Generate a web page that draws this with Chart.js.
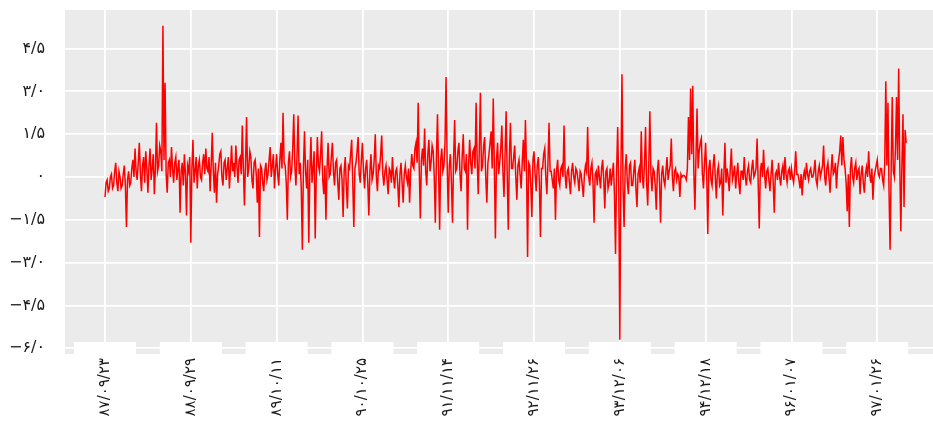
<!DOCTYPE html>
<html>
<head>
<meta charset="utf-8">
<script src="https://cdn.jsdelivr.net/npm/chart.js@4"></script>
<style>
  html, body { margin: 0; padding: 0; background: #fff; overflow: hidden; }
</style>
</head>
<body>
<canvas id="returns-chart" width="933" height="426"></canvas>
<script>
// tick labels (Persian dates, one every 80 observations)
const dateLabels = ['۸۷/۰۹/۲۳', '۸۸/۰۹/۲۹', '۸۹/۱۰/۱۱', '۹۰/۱۰/۲۵', '۹۱/۱۱/۱۴',
                    '۹۲/۱۱/۲۶', '۹۳/۱۲/۰۶', '۹۴/۱۲/۱۸', '۹۶/۰۱/۰۷', '۹۷/۰۱/۲۶'];
const dateTickIndex = [0, 80, 160, 240, 320, 400, 480, 560, 640, 720];

const yTickValues = [-6, -4.5, -3, -1.5, 0, 1.5, 3, 4.5];
const yTickLabels = ['−۶/۰', '−۴/۵', '−۳/۰', '−۱/۵', '۰', '۱/۵', '۳/۰', '۴/۵'];

const returns = [
  -0.7, -0.2, -0.1, -0.5, -0.4, 0.0, 0.1, -0.4, -0.3, 0.2, 0.5, -0.2, -0.5, 0.2, 0.0, -0.4, -0.3, 0.1, 0.4, -0.3,
  -1.75, -0.1, 0.2, -0.3, -0.2, 0.3, 0.6, 0.0, 1.0, 0.2, -0.1, 0.5, 1.2, 0.1, -0.5, 0.4, 0.7, -0.2, 0.9, 0.3,
  -0.55, 0.4, 1.0, -0.1, 0.3, 0.8, -0.6, 0.3, 1.9, 0.2, 0.4, 1.1, 0.9, 0.2, 5.3, 0.6, 3.3, 0.1, -0.55, 0.5,
  0.6, 0.0, 1.05, 0.3, -0.2, 0.5, 0.7, -0.1, 0.3, 0.6, -1.25, 0.2, 0.5, -0.3, 0.8, 0.1, -1.35, 0.4, 0.2, 0.7,

  -2.3, 0.3, 1.3, -0.2, 0.2, 0.7, -0.4, 0.4, 0.6, 0.0, -0.1, 0.5, 0.8, 0.1, 1.0, 0.3, 0.2, 0.7, -0.5, 0.4,
  1.55, 0.2, -0.55, 0.5, -0.9, 0.1, 0.4, 0.8, 0.9, 0.0, -0.3, 0.5, 0.6, -0.1, 0.3, 0.7, -0.4, 0.3, 1.1, 0.2,
  0.5, 0.0, 1.1, 0.4, -0.2, 0.6, 0.7, 0.1, 1.8, 0.3, -1.0, 0.5, 2.1, 0.0, 0.3, 0.9, 0.7, -0.1, -0.4, 0.5,
  0.6, 0.1, -0.9, 0.3, -2.1, 0.4, 0.3, -0.2, -0.5, 0.2, 0.5, -0.1, 0.1, 0.6, 1.05, 0.0, 0.4, 0.8, -0.4, 0.3,

  0.8, 0.1, -0.3, 0.6, 1.2, 0.3, 2.25, 0.5, 0.4, -0.2, -1.5, 0.5, 0.9, 0.0, 0.2, 1.0, 2.2, 0.4, -0.3, 0.7,
  2.15, 0.1, 0.5, -0.4, -2.55, 0.3, 1.6, 0.2, -0.4, 0.6, -2.3, 0.2, 1.4, -0.2, 0.3, 0.9, -2.15, 0.1, 1.4, 0.4,
  0.2, 0.8, 1.6, -0.1, -0.6, 0.4, -1.5, 0.3, 1.2, 0.0, 0.1, 0.7, 1.2, 0.2, -0.3, 0.5, 0.6, -0.2, -0.8, 0.3,
  0.4, -0.1, -1.4, 0.2, 0.7, -0.3, -1.1, 0.4, 0.3, 0.8, 1.3, -0.2, -1.75, 0.3, 0.5, 0.9, 1.4, 0.1, -0.2, 0.6,

  1.2, 0.2, -0.4, 0.3, 0.6, -0.2, -1.35, 0.2, 0.8, -0.1, 0.1, 0.6, 1.5, 0.0, -0.5, 0.4, 0.3, 0.8, 1.45, 0.1,
  -0.3, 0.2, 0.4, -0.1, -0.6, 0.3, 0.2, -0.2, 0.7, 0.0, -0.4, 0.2, 0.3, -0.3, -1.05, 0.1, 0.5, -0.2, -0.9, 0.1,
  0.4, 0.0, -0.2, 0.3, -0.9, 0.2, 0.8, 0.4, 0.3, 1.0, 1.2, 0.5, 2.6, 0.3, -1.45, 0.6, 1.0, 0.4, 1.7, 0.2,
  -0.3, 0.8, 1.3, 0.2, 0.5, 1.1, 0.9, 0.0, -1.6, 0.7, 2.2, 0.3, -1.85, 0.6, 1.0, 0.2, 0.4, 1.2, 3.5, 0.5,

  -1.25, 0.4, 0.8, -0.2, -1.6, 0.6, 2.0, 0.2, 0.3, 0.9, 1.2, 0.1, -0.5, 0.7, 1.5, 0.3, 0.2, 0.8, -1.85, 0.4,
  1.3, 0.5, 0.1, 0.9, 1.0, 0.3, 2.6, 0.6, -0.6, 1.0, 2.95, 0.2, 0.4, 1.1, 1.4, 0.0, -0.9, 0.5, 0.8, 1.2,
  1.6, 0.3, 2.75, 0.4, -2.15, 0.6, 1.2, 0.1, 0.5, 1.0, 1.8, 0.2, -0.7, 0.8, 2.3, 0.1, -1.85, 0.7, 1.9, 0.3,
  0.3, 0.7, 1.1, 0.0, -0.8, 0.4, 0.6, 0.1, -0.4, 0.5, 1.3, 0.2, 2.0, 0.3, -2.8, 0.5, 0.4, -0.3, -1.4, 0.6,

  0.9, 0.1, -0.5, 0.4, 0.7, -0.2, -2.1, 0.3, 0.3, 0.8, 1.0, 0.0, -0.6, 0.5, 1.9, 0.2, 0.2, -0.1, -0.4, 0.3,
  -1.5, 0.2, 0.6, -0.1, -0.3, 0.3, 0.4, 0.0, 1.8, 0.1, -0.4, 0.2, 0.3, -0.2, -0.6, 0.2, 0.5, 0.0, -0.2, 0.3,
  0.2, -0.1, -0.5, 0.2, 0.1, -0.3, -0.7, 0.1, 0.4, 0.2, 1.75, 0.0, -0.3, 0.3, 0.5, -0.2, -1.6, 0.1, 0.2, -0.3,
  0.4, 0.0, -0.4, 0.3, 0.6, -0.1, -1.1, 0.2, 0.3, -0.4, -0.2, 0.3, -0.3, 0.1, 0.5, -0.6, -2.7, 0.2, 1.75, -0.3,

  -5.7, 0.2, 3.6, -0.4, -1.75, 0.3, 0.8, -0.2, -0.6, 0.4, 0.5, -0.3, -0.3, 0.2, 0.6, -0.4, -1.05, 0.1, 0.3, -0.2,
  1.6, 0.0, -0.4, 0.5, 1.75, -0.2, -1.0, 0.4, 2.3, 0.1, -0.5, 0.3, 0.2, -0.3, -1.15, 0.2, 0.6, -0.2, -1.6, 0.1,
  0.4, -0.1, -0.3, 0.2, 0.7, -0.1, 0.2, 0.4, 1.35, 0.0, -0.5, 0.2, 0.3, -0.1, 0.1, 0.0, -0.7, 0.1, 0.0, 0.05,
  0.05, 0.0, -0.1, 0.3, 2.1, 0.6, 3.1, 0.8, 3.2, 0.2, -1.15, 0.7, 2.4, 0.3, 0.9, 1.2, 1.35, 0.1, -0.4, 0.5,

  1.2, 0.1, -2.0, 0.3, 0.6, -0.1, -0.3, 0.4, 0.8, 0.0, -0.75, 0.2, 0.4, -0.3, -0.2, 0.3, -1.35, 0.1, 1.2, -0.2,
  0.3, 0.0, -0.5, 0.3, 1.0, -0.1, 0.1, 0.4, -0.4, 0.1, 0.5, -0.2, -0.6, 0.2, 0.2, -0.1, 0.7, 0.0, -0.3, 0.2,
  0.4, -0.1, -0.2, 0.3, 0.6, 0.0, 0.1, 0.3, 1.35, -0.2, -1.8, 0.2, 0.5, 0.0, 0.95, 0.1, -0.4, 0.2, 0.3, -0.1,
  -0.5, 0.1, 0.6, -0.2, -1.25, 0.1, 0.2, -0.1, 0.5, 0.0, -0.3, 0.2, 0.4, -0.1, 0.7, 0.1, -0.2, 0.2, 0.3, -0.1,

  0.3, 0.0, -0.2, 0.2, 0.9, 0.1, 0.1, -0.1, -0.4, 0.1, -0.65, 0.0, 0.2, -0.1, 0.5, 0.1, -0.1, 0.2, 0.3, 0.0,
  0.0, 0.2, 0.6, -0.1, -0.3, 0.2, 0.4, 0.0, 0.2, 0.4, 1.1, 0.0, -0.3, 0.3, 0.5, 0.0, -0.55, 0.2, 0.8, 0.1,
  0.2, 0.5, -0.4, 0.3, 0.6, 0.9, 1.45, 0.4, 1.4, 0.6, 0.3, -0.2, -1.2, 0.1, -1.75, 0.3, 0.7, 0.0, -0.2, 0.3,
  0.5, -0.1, 0.2, 0.3, -0.6, 0.1, 0.4, -0.2, -0.55, 0.1, 0.35, 0.0, 0.9, 0.1, -0.2, 0.3, -0.8, 0.0, 0.2, 0.4,

  0.6, 0.1, 0.0, 0.3, 0.3, -0.1, -0.3, 0.5, 3.35, 0.4, 2.6, -0.5, -2.55, 0.3, 2.8, 0.2, 0.0, 1.0, 2.8, 0.6,
  3.8, 0.5, -1.9, 0.4, 2.2, -1.05, 1.65, 1.2
];

const points = returns.map((v, i) => ({ x: i, y: v }));
const textColor = '#1a1a1a';

// grey ggplot-like panel
const panelBg = {
  id: 'panelBg',
  beforeDraw(chart) {
    const { ctx, chartArea: a } = chart;
    ctx.save();
    ctx.fillStyle = '#ebebeb';
    ctx.fillRect(a.left, a.top, a.right - a.left, a.bottom - a.top);
    ctx.restore();
  }
};

// white label boxes that bite into the bottom of the panel
const labelBoxes = {
  id: 'labelBoxes',
  afterDatasetsDraw(chart) {
    const { ctx, chartArea: a } = chart;
    const xs = chart.scales.x;
    ctx.save();
    ctx.fillStyle = '#ffffff';
    dateTickIndex.forEach(i => {
      const px = xs.getPixelForValue(i);
      ctx.fillRect(px - 31, a.bottom - 12, 62, 13);
    });
    ctx.restore();
  }
};

const ctx = document.getElementById('returns-chart').getContext('2d');
new Chart(ctx, {
  type: 'line',
  data: {
    datasets: [{
      data: points,
      borderColor: '#ff0000',
      borderWidth: 1.5,
      pointRadius: 0,
      tension: 0,
      fill: false
    }]
  },
  options: {
    responsive: false,
    animation: false,
    layout: { padding: { top: 10, right: 0, left: 0, bottom: 0 } },
    plugins: {
      legend: { display: false },
      tooltip: { enabled: false }
    },
    scales: {
      x: {
        type: 'linear',
        min: -37.3,
        max: 772,
        afterFit: s => { s.height = 72; s.paddingLeft = 0; s.paddingRight = 0; },
        afterBuildTicks: s => { s.ticks = dateTickIndex.map(v => ({ value: v })); },
        grid: { color: '#ffffff', lineWidth: 1.8, drawTicks: false },
        border: { display: false },
        ticks: {
          autoSkip: false,
          maxRotation: 90,
          minRotation: 90,
          padding: 4,
          color: textColor,
          font: { family: 'DejaVu Sans', size: 15 },
          callback: v => dateLabels[dateTickIndex.indexOf(v)]
        }
      },
      y: {
        min: -6.2,
        max: 5.85,
        afterFit: s => { s.width = 65; s.paddingTop = 0; s.paddingBottom = 0; },
        afterBuildTicks: s => { s.ticks = yTickValues.map(v => ({ value: v })); },
        grid: { color: '#ffffff', lineWidth: 1.8, drawTicks: false },
        border: { display: false },
        ticks: {
          padding: 20,
          color: textColor,
          font: { family: 'DejaVu Sans', size: 16 },
          callback: v => yTickLabels[yTickValues.indexOf(v)]
        }
      }
    }
  },
  plugins: [panelBg, labelBoxes]
});
</script>
</body>
</html>
